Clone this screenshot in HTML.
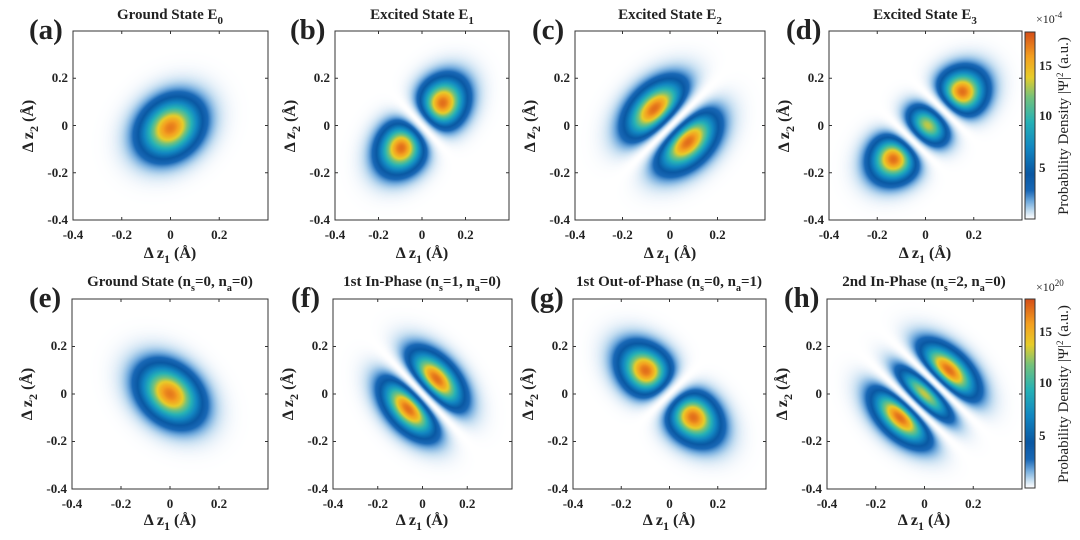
<!DOCTYPE html>
<html><head><meta charset="utf-8">
<style>
html,body{margin:0;padding:0;background:#fff;}
#wrap{position:relative;width:1080px;height:540px;overflow:hidden;background:#fff;}
canvas{position:absolute;}
svg{position:absolute;left:0;top:0;}
text{font-family:"Liberation Serif",serif;font-weight:bold;fill:#222;}
.t{font-size:15px;text-anchor:middle;}
.k{font-size:13px;}
.kx{font-size:13px;text-anchor:middle;}
.ky{font-size:13px;text-anchor:end;}
.p{font-size:29px;}
.al{font-size:16px;text-anchor:middle;}
</style></head><body>
<div id="wrap">
<canvas id="ca" style="left:73px;top:31px" width="195" height="189"></canvas>
<canvas id="cb" style="left:335px;top:31px" width="174" height="189"></canvas>
<canvas id="cc" style="left:575px;top:31px" width="190" height="189"></canvas>
<canvas id="cd" style="left:829px;top:31px" width="193" height="189"></canvas>
<canvas id="ce" style="left:72px;top:299px" width="196" height="190"></canvas>
<canvas id="cf" style="left:333px;top:299px" width="179" height="190"></canvas>
<canvas id="cg" style="left:573px;top:299px" width="193" height="190"></canvas>
<canvas id="ch" style="left:827px;top:299px" width="195" height="190"></canvas>
<canvas id="cb1" style="left:1025px;top:32px" width="10" height="187"></canvas>
<canvas id="cb2" style="left:1025px;top:299px" width="10" height="189"></canvas>
<svg width="1080" height="540" id="ov">
<g fill="none" stroke="#333" stroke-width="1">
<rect x="73" y="31" width="195" height="189"/>
<rect x="335" y="31" width="174" height="189"/>
<rect x="575" y="31" width="190" height="189"/>
<rect x="829" y="31" width="193" height="189"/>
<rect x="72" y="299" width="196" height="190"/>
<rect x="333" y="299" width="179" height="190"/>
<rect x="573" y="299" width="193" height="190"/>
<rect x="827" y="299" width="195" height="190"/>
<rect x="1025" y="32" width="10" height="187"/>
<rect x="1025" y="299" width="10" height="189"/>
</g>
<g id="ticks" stroke="#333" stroke-width="1"></g>

<text class="t" x="170" y="19">Ground State E<tspan font-size="11" dy="5">0</tspan></text>
<text class="t" x="422" y="19">Excited State E<tspan font-size="11" dy="5">1</tspan></text>
<text class="t" x="670" y="19">Excited State E<tspan font-size="11" dy="5">2</tspan></text>
<text class="t" x="925" y="19">Excited State E<tspan font-size="11" dy="5">3</tspan></text>
<text class="t" x="170" y="286">Ground State (n<tspan font-size="10" dy="5">s</tspan><tspan dy="-5">=0, n</tspan><tspan font-size="10" dy="5">a</tspan><tspan dy="-5">=0)</tspan></text>
<text class="t" x="422" y="286">1st In-Phase (n<tspan font-size="10" dy="5">s</tspan><tspan dy="-5">=1, n</tspan><tspan font-size="10" dy="5">a</tspan><tspan dy="-5">=0)</tspan></text>
<text class="t" x="669" y="286">1st Out-of-Phase (n<tspan font-size="10" dy="5">s</tspan><tspan dy="-5">=0, n</tspan><tspan font-size="10" dy="5">a</tspan><tspan dy="-5">=1)</tspan></text>
<text class="t" x="924" y="286">2nd In-Phase (n<tspan font-size="10" dy="5">s</tspan><tspan dy="-5">=2, n</tspan><tspan font-size="10" dy="5">a</tspan><tspan dy="-5">=0)</tspan></text>

<text class="p" x="29" y="39">(a)</text>
<text class="p" x="290" y="39">(b)</text>
<text class="p" x="532" y="39">(c)</text>
<text class="p" x="786" y="39">(d)</text>
<text class="p" x="29" y="307">(e)</text>
<text class="p" x="291" y="307">(f)</text>
<text class="p" x="530" y="307">(g)</text>
<text class="p" x="784" y="307">(h)</text>

<text class="kx" x="73" y="239">-0.4</text><text class="kx" x="121.75" y="239">-0.2</text><text class="kx" x="170.5" y="239">0</text><text class="kx" x="219.25" y="239">0.2</text>
<text class="kx" x="335" y="239">-0.4</text><text class="kx" x="378.5" y="239">-0.2</text><text class="kx" x="422" y="239">0</text><text class="kx" x="465.5" y="239">0.2</text>
<text class="kx" x="575" y="239">-0.4</text><text class="kx" x="622.5" y="239">-0.2</text><text class="kx" x="670" y="239">0</text><text class="kx" x="717.5" y="239">0.2</text>
<text class="kx" x="829" y="239">-0.4</text><text class="kx" x="877.25" y="239">-0.2</text><text class="kx" x="925.5" y="239">0</text><text class="kx" x="973.75" y="239">0.2</text>
<text class="kx" x="72" y="508">-0.4</text><text class="kx" x="121" y="508">-0.2</text><text class="kx" x="170" y="508">0</text><text class="kx" x="219" y="508">0.2</text>
<text class="kx" x="333" y="508">-0.4</text><text class="kx" x="377.75" y="508">-0.2</text><text class="kx" x="422.5" y="508">0</text><text class="kx" x="467.25" y="508">0.2</text>
<text class="kx" x="573" y="508">-0.4</text><text class="kx" x="621.25" y="508">-0.2</text><text class="kx" x="669.5" y="508">0</text><text class="kx" x="717.75" y="508">0.2</text>
<text class="kx" x="827" y="508">-0.4</text><text class="kx" x="875.75" y="508">-0.2</text><text class="kx" x="924.5" y="508">0</text><text class="kx" x="973.25" y="508">0.2</text>

<text class="ky" x="68" y="82">0.2</text><text class="ky" x="68" y="130">0</text><text class="ky" x="68" y="177">-0.2</text><text class="ky" x="68" y="224">-0.4</text>
<text class="ky" x="330" y="82">0.2</text><text class="ky" x="330" y="130">0</text><text class="ky" x="330" y="177">-0.2</text><text class="ky" x="330" y="224">-0.4</text>
<text class="ky" x="570" y="82">0.2</text><text class="ky" x="570" y="130">0</text><text class="ky" x="570" y="177">-0.2</text><text class="ky" x="570" y="224">-0.4</text>
<text class="ky" x="824" y="82">0.2</text><text class="ky" x="824" y="130">0</text><text class="ky" x="824" y="177">-0.2</text><text class="ky" x="824" y="224">-0.4</text>
<text class="ky" x="67" y="350">0.2</text><text class="ky" x="67" y="398">0</text><text class="ky" x="67" y="445">-0.2</text><text class="ky" x="67" y="493">-0.4</text>
<text class="ky" x="328" y="350">0.2</text><text class="ky" x="328" y="398">0</text><text class="ky" x="328" y="445">-0.2</text><text class="ky" x="328" y="493">-0.4</text>
<text class="ky" x="568" y="350">0.2</text><text class="ky" x="568" y="398">0</text><text class="ky" x="568" y="445">-0.2</text><text class="ky" x="568" y="493">-0.4</text>
<text class="ky" x="822" y="350">0.2</text><text class="ky" x="822" y="398">0</text><text class="ky" x="822" y="445">-0.2</text><text class="ky" x="822" y="493">-0.4</text>

<text class="al" x="170" y="258">Δ z<tspan font-size="12" dy="5">1</tspan><tspan dy="-5"> (Å)</tspan></text>
<text class="al" x="422" y="258">Δ z<tspan font-size="12" dy="5">1</tspan><tspan dy="-5"> (Å)</tspan></text>
<text class="al" x="670" y="258">Δ z<tspan font-size="12" dy="5">1</tspan><tspan dy="-5"> (Å)</tspan></text>
<text class="al" x="925" y="258">Δ z<tspan font-size="12" dy="5">1</tspan><tspan dy="-5"> (Å)</tspan></text>
<text class="al" x="170" y="525">Δ z<tspan font-size="12" dy="5">1</tspan><tspan dy="-5"> (Å)</tspan></text>
<text class="al" x="422" y="525">Δ z<tspan font-size="12" dy="5">1</tspan><tspan dy="-5"> (Å)</tspan></text>
<text class="al" x="669" y="525">Δ z<tspan font-size="12" dy="5">1</tspan><tspan dy="-5"> (Å)</tspan></text>
<text class="al" x="924" y="525">Δ z<tspan font-size="12" dy="5">1</tspan><tspan dy="-5"> (Å)</tspan></text>

<text class="al" transform="translate(33,126) rotate(-90)">Δ z<tspan font-size="12" dy="5">2</tspan><tspan dy="-5"> (Å)</tspan></text>
<text class="al" transform="translate(295,126) rotate(-90)">Δ z<tspan font-size="12" dy="5">2</tspan><tspan dy="-5"> (Å)</tspan></text>
<text class="al" transform="translate(535,126) rotate(-90)">Δ z<tspan font-size="12" dy="5">2</tspan><tspan dy="-5"> (Å)</tspan></text>
<text class="al" transform="translate(789,126) rotate(-90)">Δ z<tspan font-size="12" dy="5">2</tspan><tspan dy="-5"> (Å)</tspan></text>
<text class="al" transform="translate(32,394) rotate(-90)">Δ z<tspan font-size="12" dy="5">2</tspan><tspan dy="-5"> (Å)</tspan></text>
<text class="al" transform="translate(293,394) rotate(-90)">Δ z<tspan font-size="12" dy="5">2</tspan><tspan dy="-5"> (Å)</tspan></text>
<text class="al" transform="translate(533,394) rotate(-90)">Δ z<tspan font-size="12" dy="5">2</tspan><tspan dy="-5"> (Å)</tspan></text>
<text class="al" transform="translate(787,394) rotate(-90)">Δ z<tspan font-size="12" dy="5">2</tspan><tspan dy="-5"> (Å)</tspan></text>

<text class="k" x="1039" y="172">5</text><text class="k" x="1039" y="120">10</text><text class="k" x="1039" y="70">15</text>
<text class="k" x="1039" y="440">5</text><text class="k" x="1039" y="387">10</text><text class="k" x="1039" y="336">15</text>
<text x="1036" y="23" style="font-size:12px;font-weight:normal">×10<tspan font-size="9" dy="-5">-4</tspan></text>
<text x="1036" y="291" style="font-size:12px;font-weight:normal">×10<tspan font-size="9" dy="-5">20</tspan></text>
<text transform="translate(1068,126) rotate(-90)" style="font-size:15px;font-weight:normal;text-anchor:middle">Probability Density |Ψ|<tspan font-size="9" dy="-5">2</tspan><tspan dy="5"> (a.u.)</tspan></text>
<text transform="translate(1068,394) rotate(-90)" style="font-size:15px;font-weight:normal;text-anchor:middle">Probability Density |Ψ|<tspan font-size="9" dy="-5">2</tspan><tspan dy="5"> (a.u.)</tspan></text>
</svg>
</div>
<script>
var stops=[[0,255,255,255],[0.008,242,247,252],[0.04,195,221,241],[0.09,115,172,222],[0.15,25,104,182],[0.24,10,88,163],[0.38,18,135,194],[0.52,38,178,182],[0.65,115,194,125],[0.76,232,205,42],[0.87,244,160,32],[1,214,80,24]];
function cmap(t){t=Math.max(0,Math.min(1,t));for(var i=1;i<stops.length;i++){if(t<=stops[i][0]){var a=stops[i-1],b=stops[i],f=(t-a[0])/(b[0]-a[0]);return [a[1]+(b[1]-a[1])*f,a[2]+(b[2]-a[2])*f,a[3]+(b[3]-a[3])*f];}}return stops[stops.length-1].slice(1);}
function H(n,x){return n==0?1:n==1?2*x:4*x*x-2;}
var S=Math.SQRT1_2;
function draw(id,n,m,su,sv,cx,cy,mx){
 var c=document.getElementById(id),w=c.width,h=c.height,ctx=c.getContext('2d');
 var img=ctx.createImageData(w,h),vals=new Float32Array(w*h),max=0;
 for(var j=0;j<h;j++)for(var i=0;i<w;i++){
  var x=-0.4+0.8*(i+0.5)/w-cx,y=0.4-0.8*(j+0.5)/h-cy;
  var u=(x+y)*S,v=(y-x)*S,a=u/su,b=v/sv;
  var p=H(n,a)*H(m,b)*Math.exp(-(a*a+b*b)/2);p=p*p;
  vals[j*w+i]=p;if(p>max)max=p;}
 for(var k=0;k<w*h;k++){var col=cmap(vals[k]/max*mx);img.data[4*k]=col[0];img.data[4*k+1]=col[1];img.data[4*k+2]=col[2];img.data[4*k+3]=255;}
 ctx.putImageData(img,0,0);
}
draw('ca',0,0,0.125,0.1,0,-0.01,0.93);
draw('cb',1,0,0.135,0.09,0,0,0.95);
draw('cc',0,1,0.135,0.1,0.005,0,0.95);
draw('cd',2,0,0.128,0.085,0.01,0,0.95);
draw('ce',0,0,0.095,0.13,0,0,0.93);
draw('cf',1,0,0.09,0.135,0,0,0.95);
draw('cg',0,1,0.085,0.14,0,0,0.95);
draw('ch',2,0,0.09,0.13,0,0,0.95);
['cb1','cb2'].forEach(function(id){var c=document.getElementById(id),ctx=c.getContext('2d');for(var j=0;j<c.height;j++){var col=cmap(1-j/(c.height-1));ctx.fillStyle='rgb('+(col[0]|0)+','+(col[1]|0)+','+(col[2]|0)+')';ctx.fillRect(0,j,c.width,1);}});
var P=[[73,268,31,220],[335,509,31,220],[575,765,31,220],[829,1022,31,220],[72,268,299,489],[333,512,299,489],[573,766,299,489],[827,1022,299,489]];
var g=document.getElementById('ticks'),s='';
P.forEach(function(p){var L=p[0],R=p[1],T=p[2],B=p[3];
 for(var v=-0.4;v<0.39;v+=0.2){var x=L+(v+0.4)/0.8*(R-L),y=T+(0.4-v)/0.8*(B-T);
  s+='<line x1="'+x+'" y1="'+B+'" x2="'+x+'" y2="'+(B-3)+'"/><line x1="'+x+'" y1="'+T+'" x2="'+x+'" y2="'+(T+3)+'"/>';
  s+='<line x1="'+L+'" y1="'+y+'" x2="'+(L+3)+'" y2="'+y+'"/><line x1="'+R+'" y1="'+y+'" x2="'+(R-3)+'" y2="'+y+'"/>';}});
g.innerHTML=s;
</script>
</body></html>
